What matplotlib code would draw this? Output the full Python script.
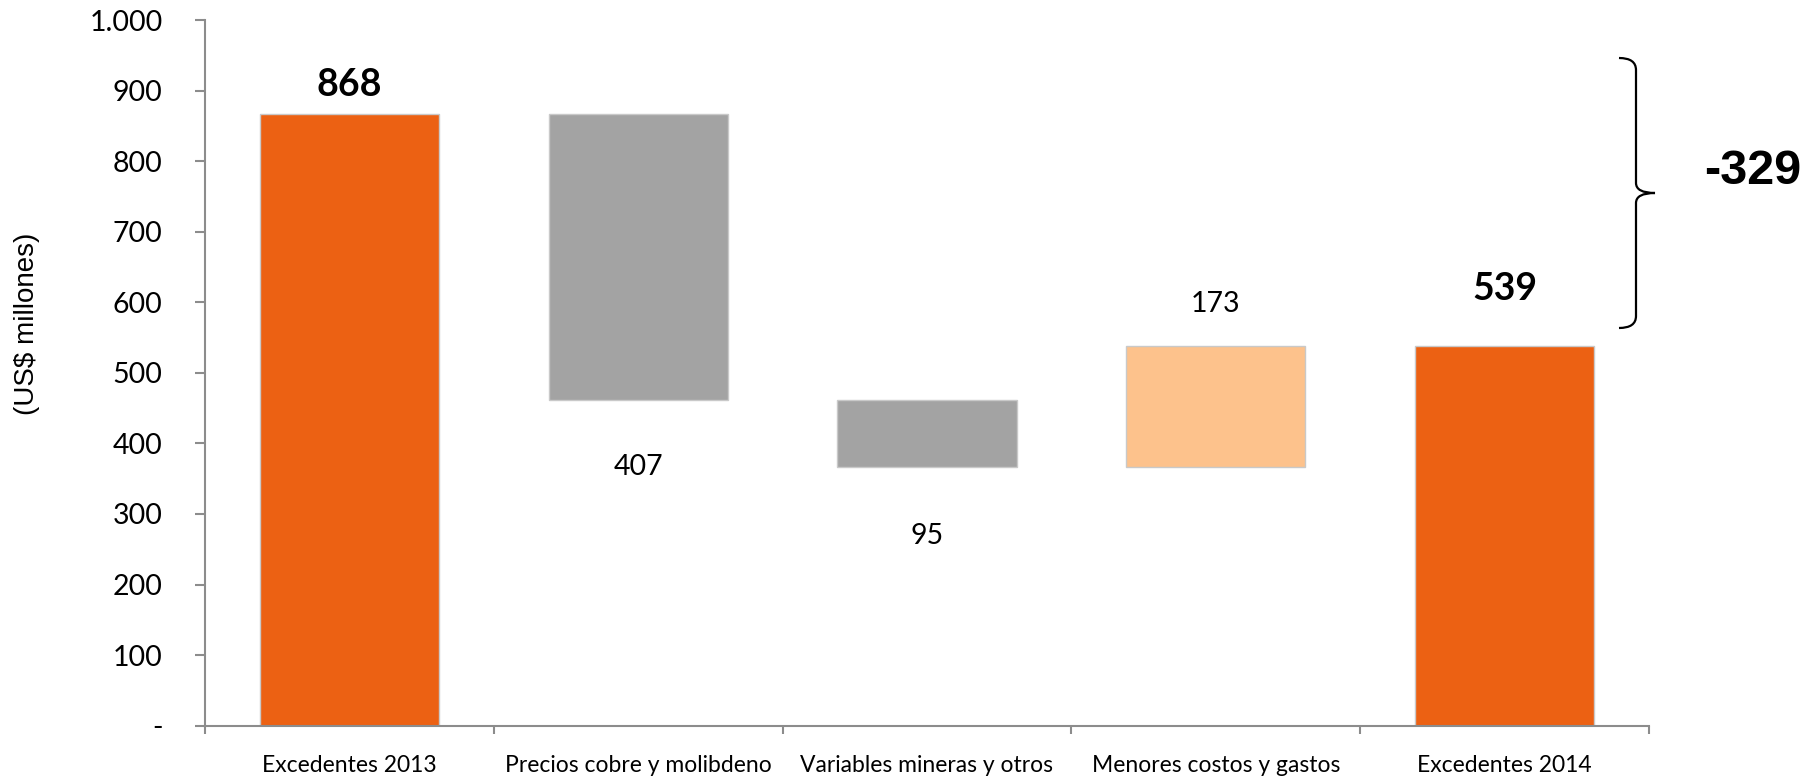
import matplotlib
matplotlib.use("Agg")
import matplotlib.pyplot as plt
from matplotlib.path import Path
from matplotlib.patches import PathPatch
from matplotlib.ticker import FuncFormatter

# ---- data ----
categories = ["Excedentes 2013", "Precios cobre y molibdeno",
              "Variables mineras y otros", "Menores costos y gastos",
              "Excedentes 2014"]
values = [868, -407, -95, 173, 539]
kinds = ["total", "delta", "delta", "delta", "total"]
total_change = -329
y_ticks = list(range(0, 1001, 100))

# ---- style ----
ORANGE = "#EC6113"
GRAY = "#A3A3A3"
LIGHT = "#FDC28C"
SPINE = "#8C8C8C"
label_offsets = [40, -94, -97, 59, 80]

W, H = 1812, 783
fig = plt.figure(figsize=(W / 100, H / 100), dpi=100)
ax = fig.add_axes([205 / W, 1 - 725.5 / H, (1649 - 205) / W, (725.5 - 20.5) / H])

bottoms, heights, colors, ends = [], [], [], []
running = 0
for v, k in zip(values, kinds):
    if k == "total":
        bottoms.append(0); heights.append(v); colors.append(ORANGE)
        ends.append(v); running = v
    else:
        if v < 0:
            bottoms.append(running + v); heights.append(-v); colors.append(GRAY)
            ends.append(running + v)
        else:
            bottoms.append(running); heights.append(v); colors.append(LIGHT)
            ends.append(running + v)
        running += v

x = list(range(len(categories)))
ax.bar(x, heights, bottom=bottoms, width=0.62, color=colors,
       edgecolor="#C9C9C9", linewidth=1, zorder=2)

for i, (v, k) in enumerate(zip(values, kinds)):
    bold = k == "total"
    ax.text(i, ends[i] + label_offsets[i], f"{abs(v)}", ha="center", va="center",
            fontsize=27 if bold else 20.5, fontweight="bold" if bold else "normal",
            family="Lato", color="black")

ax.set_xlim(-0.5, len(categories) - 0.5)
ax.set_ylim(0, 1000)
ax.set_yticks(y_ticks)
ax.yaxis.set_major_formatter(FuncFormatter(
    lambda v, p: "-" if v == 0 else f"{int(v):,}".replace(",", ".")))
ax.set_xticks(x)
ax.set_xticklabels(categories)
ax.set_xticks([i - 0.5 for i in range(len(categories) + 1)], minor=True)
ax.tick_params(axis="x", which="major", length=0, pad=21, labelsize=16.5)
ax.tick_params(axis="x", which="minor", length=6, width=1.5, color=SPINE, direction="out")
ax.tick_params(axis="y", length=7.5, width=1.5, color=SPINE, pad=23, labelsize=20.5)
for lab in ax.get_xticklabels() + ax.get_yticklabels():
    lab.set_family("Lato")
for s in ["top", "right"]:
    ax.spines[s].set_visible(False)
for s in ["left", "bottom"]:
    ax.spines[s].set_color(SPINE)
    ax.spines[s].set_linewidth(1.5)

fig.text(27 / W, 1 - 324 / H, "(US$ millones)", rotation=90, ha="center", va="center",
         fontsize=20, family="Liberation Sans")

# brace
def P(px, py):
    return (px / W, 1 - py / H)

verts = [P(1619, 58), P(1636, 58), P(1636, 70),
         P(1636, 183), P(1636, 193), P(1655, 193),
         P(1636, 193), P(1636, 203),
         P(1636, 316), P(1636, 328), P(1619, 328)]
codes = [Path.MOVETO, Path.CURVE3, Path.CURVE3,
         Path.LINETO, Path.CURVE3, Path.CURVE3,
         Path.CURVE3, Path.CURVE3,
         Path.LINETO, Path.CURVE3, Path.CURVE3]
fig.patches.append(PathPatch(Path(verts, codes), transform=fig.transFigure,
                             fill=False, edgecolor="black", linewidth=1.6))

fig.text(1753 / W, 1 - 171 / H, f"{total_change}", ha="center", va="center",
         fontsize=35, fontweight="bold", family="Liberation Sans")

fig.savefig("out.png", dpi=100)
